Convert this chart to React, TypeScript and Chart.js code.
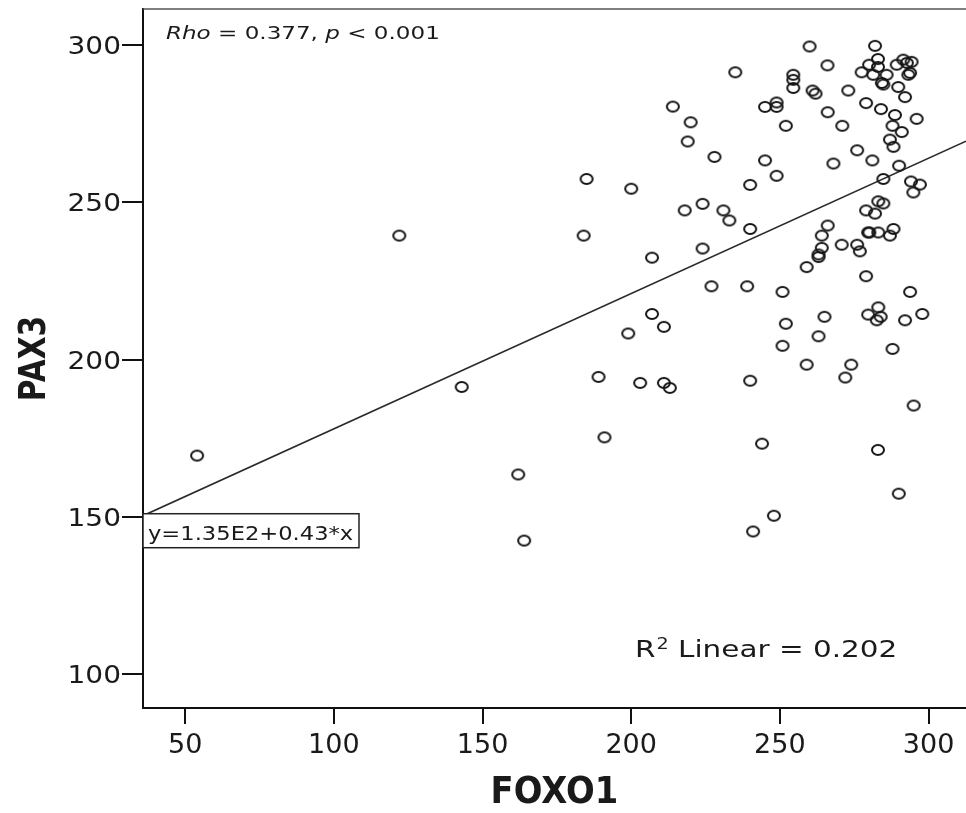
import React, { useEffect, useRef } from "react";
import { Chart, registerables } from "chart.js";
Chart.register(...registerables);

const X_MIN = 35.8;
const X_MAX = 312.6;
const Y_MIN = 89.3;
const Y_MAX = 311.4;
const X_TICKS = [50, 100, 150, 200, 250, 300];
const Y_TICKS = [100, 150, 200, 250, 300];
const X_TITLE = "FOXO1";
const Y_TITLE = "PAX3";
const INTERCEPT = 135;
const SLOPE = 0.43;
const EQUATION_LABEL = "y=1.35E2+0.43*x";
const R2_VALUE = "0.202";
const RHO_VALUE = "0.377";
const P_VALUE = "0.001";

const FOXO1 = [
  54, 122, 143, 162, 164, 235, 214, 220, 219, 228, 185, 200, 240, 224, 218, 231, 233, 240, 184, 207,
  224, 227, 239, 207, 211, 199, 189, 203, 211, 213, 240, 272, 295, 191, 244, 283, 290, 248, 241, 260,
  282, 283, 266, 254.5, 254.5, 254.5, 261, 262, 273, 277.5, 280, 281.4, 283, 285.9, 284.3, 284.8, 289.3, 291.5, 292.7, 294.3,
  293.2, 293.8, 289.8, 292.1, 245, 248.9, 248.9, 279, 284, 288.7, 296, 266.1, 252, 271, 287.9, 291, 287, 288.2, 276, 245,
  268, 281.1, 290.1, 248.9, 284.8, 294.1, 297.1, 294.9, 283.1, 284.8, 282, 279, 266.1, 264.1, 264.1, 263, 263, 259, 270.8, 276,
  276.9, 279.7, 280.1, 283.1, 288.2, 287, 279, 250.9, 293.8, 252, 265, 263, 250.9, 279.7, 283.1, 283.9, 282.6, 292.1, 297.9, 287.9,
  259, 274,
];
const PAX3 = [
  169.5, 239.4, 191.3, 163.5, 142.5, 291.3, 280.4, 275.4, 269.3, 264.4, 257.4, 254.3, 255.5, 249.5, 247.4, 247.4, 244.2, 241.5, 239.4, 232.4,
  235.3, 223.3, 223.3, 214.5, 210.4, 208.3, 194.5, 192.6, 192.6, 191.0, 193.3, 194.3, 185.4, 175.3, 173.3, 171.3, 157.4, 150.4, 145.4, 299.5,
  299.7, 295.5, 293.5, 290.5, 288.9, 286.3, 285.5, 284.5, 285.5, 291.3, 293.7, 290.5, 293, 290.5, 287.9, 287.4, 293.7, 295.3, 294.3, 294.6,
  290.5, 291.1, 286.6, 283.4, 280.3, 281.7, 280.3, 281.5, 279.6, 277.7, 276.5, 278.6, 274.3, 274.3, 274.3, 272.3, 269.9, 267.6, 266.5, 263.3,
  262.3, 263.3, 261.6, 258.4, 257.4, 256.6, 255.6, 253.1, 250.3, 249.6, 246.4, 247.4, 242.6, 239.4, 235.5, 233.4, 232.6, 229.4, 236.5, 236.5,
  234.4, 240.4, 240.4, 240.4, 241.5, 239.4, 226.5, 221.5, 221.5, 211.4, 213.6, 207.4, 204.4, 214.3, 216.6, 213.6, 212.5, 212.5, 214.5, 203.4,
  198.4, 198.4,
];

const TEXT_COLOR = "#1a1a1a";

function drawText(
  ctx: CanvasRenderingContext2D,
  text: string,
  x: number,
  y: number,
  font: string,
  sx: number,
  align: "left" | "center" | "right"
): number {
  ctx.save();
  ctx.font = font;
  ctx.textBaseline = "alphabetic";
  ctx.textAlign = "left";
  const w = ctx.measureText(text).width * sx;
  const x0 = align === "center" ? x - w / 2 : align === "right" ? x - w : x;
  ctx.translate(x0, y);
  ctx.scale(sx, 1);
  ctx.fillStyle = TEXT_COLOR;
  ctx.fillText(text, 0, 0);
  ctx.restore();
  return w;
}

const textPlugin = {
  id: "spssText",
  afterDraw(chart: any) {
    const { ctx, chartArea: a, scales } = chart;
    const xs = scales.x;
    const ys = scales.y;
    ctx.save();
    ctx.strokeStyle = "#555";
    ctx.lineWidth = 1.5;
    ctx.beginPath();
    ctx.moveTo(a.left, a.top);
    ctx.lineTo(a.right, a.top);
    ctx.stroke();
    ctx.restore();

    Y_TICKS.forEach((v) => {
      drawText(ctx, String(v), a.left - 22, ys.getPixelForValue(v) + 9, '25px "DejaVu Sans"', 1.12, "right");
    });
    X_TICKS.forEach((v) => {
      drawText(ctx, String(v), xs.getPixelForValue(v), a.bottom + 45, '27px "DejaVu Sans"', 1.0, "center");
    });
    const cx = (a.left + a.right) / 2;
    drawText(ctx, X_TITLE, cx, a.bottom + 95, 'bold 38px "DejaVu Sans"', 0.89, "center");
    ctx.save();
    ctx.translate(45, (a.top + a.bottom) / 2);
    ctx.rotate(-Math.PI / 2);
    drawText(ctx, Y_TITLE, 0, 0, 'bold 38px "DejaVu Sans"', 0.78, "center");
    ctx.restore();

    let tx = a.left + 23;
    const ty = a.top + 30;
    const sRho = 1.28;
    tx += drawText(ctx, "Rho", tx, ty, 'italic 18px "DejaVu Sans"', sRho, "left");
    tx += drawText(ctx, " = " + RHO_VALUE + ", ", tx, ty, '18px "DejaVu Sans"', sRho, "left");
    tx += drawText(ctx, "p", tx, ty, 'italic 18px "DejaVu Sans"', sRho, "left");
    drawText(ctx, " < " + P_VALUE, tx, ty, '18px "DejaVu Sans"', sRho, "left");

    let rx = 635;
    const ry = 657;
    const sR = 1.28;
    rx += drawText(ctx, "R", rx, ry, '23px "DejaVu Sans"', sR, "left");
    rx += drawText(ctx, "2", rx + 1, ry - 8, '15px "DejaVu Sans"', sR, "left") + 1;
    drawText(ctx, " Linear = " + R2_VALUE, rx, ry, '23px "DejaVu Sans"', sR, "left");

    const ly = ys.getPixelForValue(INTERCEPT + SLOPE * X_MIN);
    const bx = a.left;
    const by = ly - 2;
    ctx.save();
    ctx.fillStyle = "#fff";
    ctx.fillRect(bx, by, 216, 34);
    ctx.strokeStyle = "#222";
    ctx.lineWidth = 1.5;
    ctx.strokeRect(bx, by, 216, 34);
    ctx.restore();
    drawText(ctx, EQUATION_LABEL, bx + 5, by + 26, '20px "DejaVu Sans"', 1.13, "left");
  },
};

function makePointImage(): HTMLCanvasElement {
  const c = document.createElement("canvas");
  c.width = 16;
  c.height = 14;
  const g = c.getContext("2d")!;
  g.strokeStyle = "#151515";
  g.lineWidth = 2;
  g.beginPath();
  g.ellipse(8, 7, 6.0, 5.0, 0, 0, Math.PI * 2);
  g.stroke();
  return c;
}

export default function App() {
  const ref = useRef<HTMLCanvasElement | null>(null);
  useEffect(() => {
    document.body.style.margin = "0";
    const canvas = ref.current!;
    const pointImg = makePointImage();
    const points = FOXO1.map((x, i) => ({ x, y: PAX3[i] }));
    const fitLine = [
      { x: X_MIN, y: INTERCEPT + SLOPE * X_MIN },
      { x: X_MAX, y: INTERCEPT + SLOPE * X_MAX },
    ];
    const chart = new Chart(canvas, {
      type: "scatter",
      data: {
        datasets: [
          {
            type: "line",
            data: fitLine,
            borderColor: "#2a2a2a",
            borderWidth: 1.6,
            pointRadius: 0,
            fill: false,
            order: 2,
          } as any,
          {
            type: "scatter",
            data: points,
            pointStyle: pointImg as any,
            pointRadius: 6,
            order: 1,
          },
        ],
      },
      options: {
        animation: false,
        responsive: false,
        events: [],
        layout: { autoPadding: false, padding: { left: 0, top: 9, right: 0, bottom: 0 } },
        plugins: { legend: { display: false }, tooltip: { enabled: false } },
        scales: {
          x: {
            type: "linear",
            min: X_MIN,
            max: X_MAX,
            afterBuildTicks: (s: any) => {
              s.ticks = X_TICKS.map((v) => ({ value: v }));
            },
            afterFit: (s: any) => {
              s.height = 105;
            },
            ticks: { display: false },
            grid: {
              display: true,
              drawOnChartArea: false,
              drawTicks: true,
              tickLength: 16,
              color: "#111",
              lineWidth: 2,
            },
            border: { display: true, color: "#111", width: 2 },
          },
          y: {
            type: "linear",
            min: Y_MIN,
            max: Y_MAX,
            afterBuildTicks: (s: any) => {
              s.ticks = Y_TICKS.map((v) => ({ value: v }));
            },
            afterFit: (s: any) => {
              s.width = 143;
            },
            ticks: { display: false },
            grid: {
              display: true,
              drawOnChartArea: false,
              drawTicks: true,
              tickLength: 21,
              color: "#111",
              lineWidth: 2,
            },
            border: { display: true, color: "#111", width: 2 },
          },
        },
      },
      plugins: [textPlugin],
    });
    return () => chart.destroy();
  }, []);
  return (
    <div style={{ width: 966, height: 813, background: "#fff" }}>
      <canvas ref={ref} width={966} height={813} style={{ display: "block" }} />
    </div>
  );
}
